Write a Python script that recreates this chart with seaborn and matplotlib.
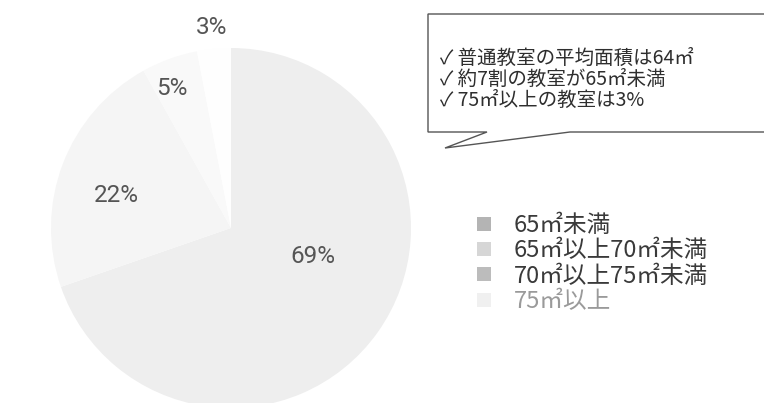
import matplotlib
matplotlib.use("Agg")
import matplotlib.pyplot as plt
import seaborn as sns
import numpy as np
from matplotlib.patches import Patch, Polygon

sns.set_theme(style="white")
plt.rcParams['font.family'] = ['Noto Sans CJK JP', 'DejaVu Sans']

categories = ["65㎡未満", "65㎡以上70㎡未満", "70㎡以上75㎡未満", "75㎡以上"]
values = [69, 22, 5, 3]
pct_labels = ["69%", "22%", "5%", "3%"]
pie_colors = ["#eeeeee", "#f5f5f5", "#f9f9f9", "#fefefe"]
legend_colors = ["#b4b4b4", "#d6d6d6", "#bcbcbc", "#f0f0f0"]
legend_text_colors = ["#3a3a3a", "#3a3a3a", "#3a3a3a", "#9a9a9a"]
notes = ["✓ 普通教室の平均面積は64㎡", "✓ 約7割の教室が65㎡未満", "✓ 75㎡以上の教室は3%"]

W, H = 764, 403
fig = plt.figure(figsize=(W / 100, H / 100), dpi=100)
fig.patch.set_facecolor("white")

cx, cy, R = 231, 228, 180
ax = fig.add_axes([(cx - R) / W, (H - cy - R) / H, 2 * R / W, 2 * R / H])
wedges, _ = ax.pie(values, colors=pie_colors, startangle=90, counterclock=False,
                   radius=1.0, wedgeprops=dict(linewidth=0))
ax.set_xlim(-1, 1)
ax.set_ylim(-1, 1)
ax.set_aspect("equal")
ax.axis("off")

# label placement: radius and angle offset per slice
label_r = [0.48, 0.66, 0.84, 1.12]
label_dang = [16, 5, 3, 0]
for w, lab, r, da in zip(wedges, pct_labels, label_r, label_dang):
    mid = np.deg2rad((w.theta1 + w.theta2) / 2 + da)
    ax.text(r * np.cos(mid), r * np.sin(mid), lab, ha="center", va="center",
            fontsize=17.5, color="#555555", family=["Roboto", "DejaVu Sans"],
            clip_on=False)

# callout box
def px(x, y):
    return (x / W, 1 - y / H)

pts = [px(428, 14), px(770, 14), px(770, 132), px(570, 132), px(445, 148),
       px(487, 132), px(428, 132)]
fig.patches.append(Polygon(pts, closed=True, transform=fig.transFigure,
                           facecolor="white", edgecolor="#555555", linewidth=1.0))
for i, t in enumerate(notes):
    x, y = px(440, 58 + 21 * i)
    fig.text(x, y, t, ha="left", va="center", fontsize=14, color="#2e2e2e")

# legend
handles = [Patch(facecolor=c, edgecolor="none") for c in legend_colors]
leg = fig.legend(handles, categories, loc="upper left",
                 bbox_to_anchor=px(477, 214), frameon=False, fontsize=17,
                 handlelength=0.6, handleheight=0.55, handletextpad=0.95,
                 labelspacing=0.1, borderaxespad=0, borderpad=0)
for txt, c in zip(leg.get_texts(), legend_text_colors):
    txt.set_color(c)

fig.savefig("out.png", dpi=100, facecolor="white")
